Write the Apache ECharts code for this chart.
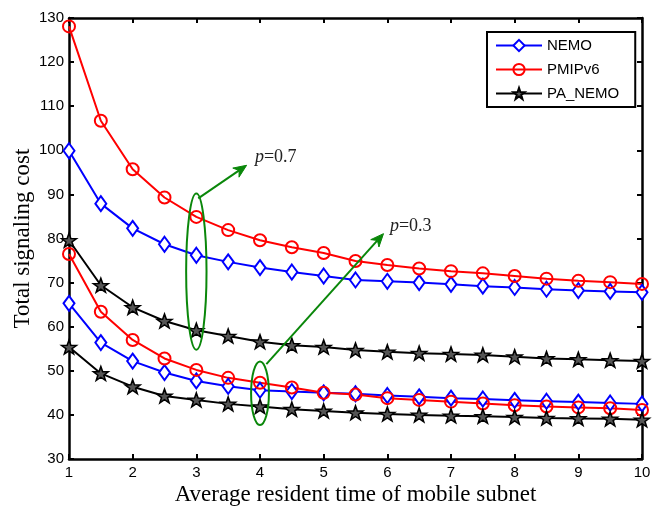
<!DOCTYPE html>
<html>
<head>
<meta charset="utf-8">
<script src="https://cdn.jsdelivr.net/npm/echarts@6/dist/echarts.min.js"></script>
<style>
html,body{margin:0;padding:0;background:#fff;}
#chart{width:653px;height:507px;}
</style>
</head>
<body>
<div id="chart"></div>
<script>
// x values (average resident time)
var xs = [1, 1.5, 2, 2.5, 3, 3.5, 4, 4.5, 5, 5.5, 6, 6.5, 7, 7.5, 8, 8.5, 9, 9.5, 10];
// p = 0.7
var nemo07   = [99.9, 87.9, 82.3, 78.7, 76.2, 74.7, 73.4, 72.4, 71.5, 70.6, 70.3, 70.0, 69.6, 69.2, 68.9, 68.5, 68.2, 68.0, 67.8];
var pmip07   = [128.1, 106.7, 95.7, 89.3, 84.9, 81.9, 79.6, 78.0, 76.7, 74.9, 74.0, 73.2, 72.6, 72.1, 71.5, 70.9, 70.4, 70.1, 69.7];
var panemo07 = [79.6, 69.4, 64.4, 61.3, 59.2, 57.9, 56.6, 55.8, 55.4, 54.7, 54.3, 54.0, 53.8, 53.6, 53.2, 52.8, 52.6, 52.4, 52.2];
// p = 0.3
var nemo03   = [65.3, 56.4, 52.2, 49.6, 47.7, 46.5, 45.6, 45.3, 45.0, 44.8, 44.4, 44.1, 43.8, 43.6, 43.3, 43.1, 42.9, 42.7, 42.5];
var pmip03   = [76.5, 63.4, 57.0, 52.8, 50.2, 48.4, 47.3, 46.2, 45.0, 44.6, 43.8, 43.4, 43.0, 42.6, 42.2, 41.9, 41.7, 41.5, 41.1];
var panemo03 = [55.4, 49.4, 46.4, 44.3, 43.4, 42.5, 41.9, 41.3, 40.9, 40.5, 40.2, 40.0, 39.8, 39.7, 39.5, 39.3, 39.2, 39.1, 38.9];
// annotations (data coordinates)
var ellipses = [[3, 72.5, 0.16, 17.7], [4, 44.9, 0.14, 7.2]];
var arrows   = [[3.03, 89.1, 3.79, 96.6], [4.1, 51.5, 5.94, 81.1]];
var notes    = [[3.92, 98.5, '0.7'], [6.04, 82.8, '0.3']];
var legendNames = ['NEMO', 'PMIPv6', 'PA_NEMO'];

function pairs(v) { return xs.map(function (x, i) { return [x, v[i]]; }); }

var starPath = 'path://M0,-10L2.35,-3.24L9.51,-3.09L3.8,1.24L5.88,8.09L0,4L-5.88,8.09L-3.8,1.24L-9.51,-3.09L-2.35,-3.24Z';
var BLUE = '#0000ff', RED = '#ff0000', BLACK = '#000000', GREEN = '#0a870a';

function lineSeries(name, data, color, kind) {
  var s = {
    name: name, type: 'line', data: pairs(data),
    lineStyle: { color: color, width: 2 },
    itemStyle: { color: color },
    emphasis: { disabled: true },
    animation: false, z: 3
  };
  if (kind === 'diamond') {
    s.symbol = 'diamond'; s.symbolSize = [11, 15];
    s.itemStyle = { color: '#fff', borderColor: color, borderWidth: 2 };
  } else if (kind === 'circle') {
    s.symbol = 'circle'; s.symbolSize = 12;
    s.itemStyle = { color: 'rgba(255,255,255,0)', borderColor: color, borderWidth: 2 };
  } else {
    s.symbol = starPath; s.symbolSize = [15, 14];
    s.itemStyle = { color: '#555', borderColor: BLACK, borderWidth: 1.5 };
  }
  return s;
}

var chart = echarts.init(document.getElementById('chart'));
var axisFont = { fontFamily: 'Liberation Sans, Arial, sans-serif', fontSize: 15, color: '#000' };

var option = {
  backgroundColor: '#fff',
  animation: false,
  grid: { left: 69, right: 11, top: 18, bottom: 48, show: false, containLabel: false, outerBoundsMode: 'none' },
  legend: {
    data: legendNames,
    orient: 'vertical',
    left: 487, top: 32,
    padding: [6, 16, 6, 8],
    itemGap: 9,
    itemWidth: 46, itemHeight: 14,
    borderColor: '#000', borderWidth: 2,
    backgroundColor: '#fff',
    textStyle: { fontFamily: 'Liberation Sans, Arial, sans-serif', fontSize: 15, color: '#000', padding: [0, 0, 0, 0] },
    selectedMode: false
  },
  xAxis: [{
    type: 'value', min: 1, max: 10, interval: 1, position: 'bottom',
    name: 'Average resident time of mobile subnet',
    nameLocation: 'middle', nameGap: 24, nameMoveOverlap: false,
    nameTextStyle: { fontFamily: 'Liberation Serif, Times New Roman, serif', fontSize: 23, color: '#000' },
    axisLine: { show: true, onZero: false, lineStyle: { color: '#000', width: 2.5 } },
    axisTick: { show: true, inside: true, length: 5, lineStyle: { color: '#000', width: 2 } },
    axisLabel: Object.assign({ margin: 6 }, axisFont),
    splitLine: { show: false }
  }, {
    type: 'value', min: 1, max: 10, interval: 1, position: 'top',
    axisLine: { show: true, onZero: false, lineStyle: { color: '#000', width: 2.5 } },
    axisTick: { show: true, inside: true, length: 5, lineStyle: { color: '#000', width: 2 } },
    axisLabel: { show: false },
    splitLine: { show: false }
  }],
  yAxis: [{
    type: 'value', min: 30, max: 130, interval: 10, position: 'left',
    name: 'Total signaling cost',
    nameLocation: 'middle', nameGap: 35, nameRotate: 90, nameMoveOverlap: false,
    nameTextStyle: { fontFamily: 'Liberation Serif, Times New Roman, serif', fontSize: 23, color: '#000' },
    axisLine: { show: true, onZero: false, lineStyle: { color: '#000', width: 2.5 } },
    axisTick: { show: true, inside: true, length: 5, lineStyle: { color: '#000', width: 2 } },
    axisLabel: Object.assign({ margin: 5 }, axisFont),
    splitLine: { show: false }
  }, {
    type: 'value', min: 30, max: 130, interval: 10, position: 'right',
    axisLine: { show: true, onZero: false, lineStyle: { color: '#000', width: 2.5 } },
    axisTick: { show: true, inside: true, length: 5, lineStyle: { color: '#000', width: 2 } },
    axisLabel: { show: false },
    splitLine: { show: false }
  }],
  series: [
    lineSeries('NEMO', nemo07, BLUE, 'diamond'),
    lineSeries('PMIPv6', pmip07, RED, 'circle'),
    lineSeries('PA_NEMO', panemo07, BLACK, 'star'),
    lineSeries('NEMO', nemo03, BLUE, 'diamond'),
    lineSeries('PMIPv6', pmip03, RED, 'circle'),
    lineSeries('PA_NEMO', panemo03, BLACK, 'star'),
    {
      type: 'custom', name: 'ellipse', data: ellipses, z: 5, silent: true,
      renderItem: function (params, api) {
        var c = api.coord([api.value(0), api.value(1)]);
        var sz = api.size([api.value(2), api.value(3)]);
        return { type: 'ellipse', shape: { cx: c[0], cy: c[1], rx: sz[0], ry: sz[1] },
          style: { fill: null, stroke: GREEN, lineWidth: 2 } };
      }
    },
    {
      type: 'custom', name: 'arrow', data: arrows, z: 5, silent: true,
      renderItem: function (params, api) {
        var a = api.coord([api.value(0), api.value(1)]);
        var b = api.coord([api.value(2), api.value(3)]);
        var dx = b[0] - a[0], dy = b[1] - a[1];
        var L = Math.sqrt(dx * dx + dy * dy);
        var ux = dx / L, uy = dy / L, nx = -uy, ny = ux;
        var hl = 13, hw = 5.5;
        var base = [b[0] - ux * hl, b[1] - uy * hl];
        var notch = [b[0] - ux * hl * 0.7, b[1] - uy * hl * 0.7];
        return { type: 'group', children: [
          { type: 'line', shape: { x1: a[0], y1: a[1], x2: notch[0], y2: notch[1] },
            style: { stroke: GREEN, lineWidth: 2 } },
          { type: 'polygon', shape: { points: [
              [b[0], b[1]],
              [base[0] + nx * hw, base[1] + ny * hw],
              notch,
              [base[0] - nx * hw, base[1] - ny * hw]] },
            style: { fill: GREEN, stroke: GREEN, lineWidth: 1 } }
        ] };
      }
    },
    {
      type: 'custom', name: 'note', data: notes, z: 6, silent: true,
      renderItem: function (params, api) {
        var c = api.coord([api.value(0), api.value(1)]);
        return { type: 'text', x: c[0], y: c[1],
          style: { text: '{i|p}=' + notes[params.dataIndex][2],
            fill: '#222', font: '18px "Liberation Serif", serif',
            verticalAlign: 'middle', align: 'left',
            rich: { i: { fontStyle: 'italic', fontFamily: 'Liberation Serif', fontSize: 18, fill: '#222' } } } };
      }
    }
  ]
};
chart.setOption(option);
</script>
</body>
</html>
